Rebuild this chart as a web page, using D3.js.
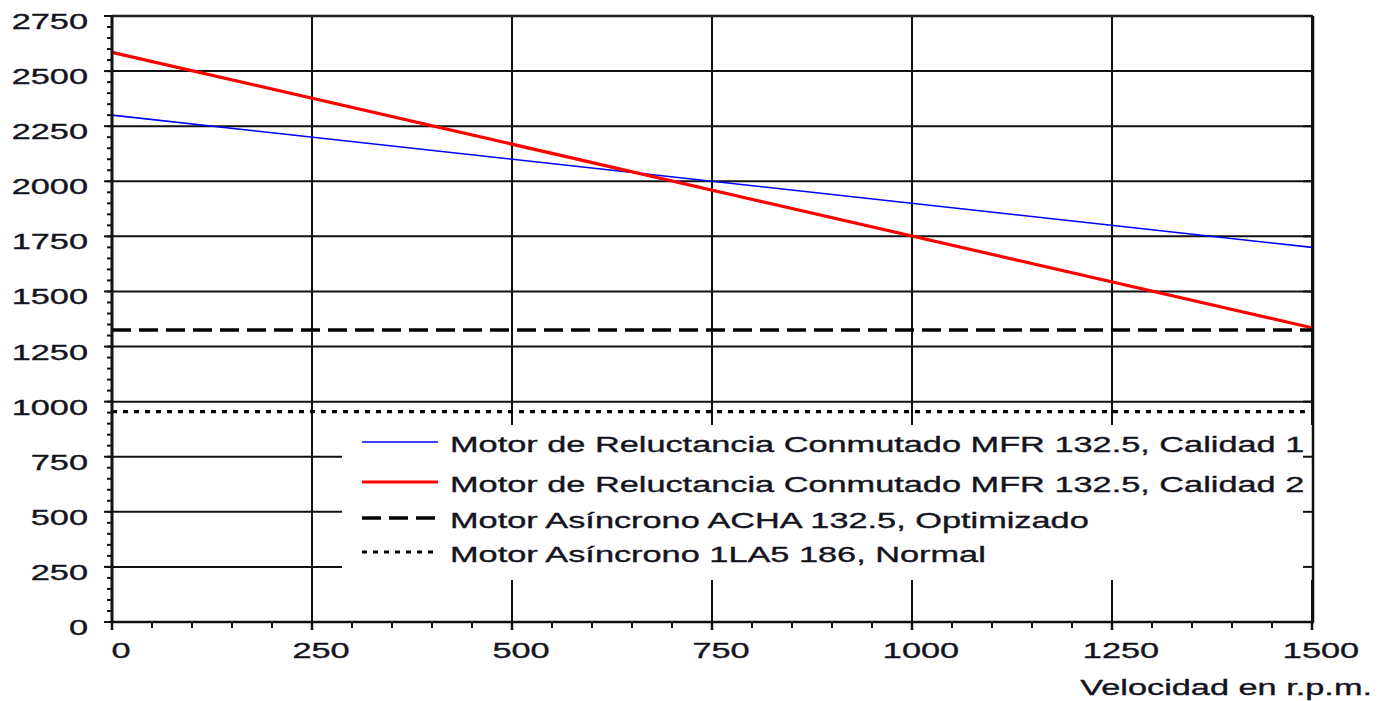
<!DOCTYPE html>
<html>
<head>
<meta charset="utf-8">
<script src="https://cdn.jsdelivr.net/npm/d3@7/dist/d3.min.js"></script>
<style>
  html, body { margin: 0; padding: 0; background: #fff; }
  svg { display: block; }
  text { font-family: "Liberation Sans", Arial, sans-serif; font-size: 22px; fill: #141420; stroke: #141420; stroke-width: 0.35px; }
</style>
</head>
<body>
<svg id="chart" width="1378" height="701"></svg>
<script>
// ---- data ----
const speeds = [0, 1500];
const calidad1 = [2300, 1700];
const calidad2 = [2585, 1335];
const achaOptimizado = [1325, 1325];
const normal1LA5 = [955, 955];
const xTicks = [0, 250, 500, 750, 1000, 1250, 1500];
const yTicks = [0, 250, 500, 750, 1000, 1250, 1500, 1750, 2000, 2250, 2500, 2750];
const seriesNames = [
  "Motor de Reluctancia Conmutado MFR 132.5, Calidad 1",
  "Motor de Reluctancia Conmutado MFR 132.5, Calidad 2",
  "Motor Asíncrono ACHA 132.5, Optimizado",
  "Motor Asíncrono 1LA5 186, Normal"
];
const xTitle = "Velocidad en r.p.m.";

// ---- layout ----
const L = 112, R = 1312, T = 16, B = 622;
const SX = 1.56; // horizontal text stretch of the original
const svg = d3.select("#chart");
const x = d3.scaleLinear().domain([0, 1500]).range([L, R]);
const y = d3.scaleLinear().domain([0, 2750]).range([B, T]);

const series = [
  { name: seriesNames[0], vals: calidad1, color: "#0000ff", width: 1.6, dash: null },
  { name: seriesNames[1], vals: calidad2, color: "#ff0000", width: 3.2, dash: null },
  { name: seriesNames[2], vals: achaOptimizado, color: "#000", width: 3.4, dash: "19,8" },
  { name: seriesNames[3], vals: normal1LA5, color: "#000", width: 3.2, dash: "5,6" }
];

// grid
const g = svg.append("g");
g.selectAll("line.hg").data(yTicks).enter().append("line")
  .attr("x1", L).attr("x2", R).attr("y1", d => y(d)).attr("y2", d => y(d))
  .attr("stroke", "#111").attr("stroke-width", 2);
g.selectAll("line.vg").data(xTicks).enter().append("line")
  .attr("y1", T).attr("y2", B).attr("x1", d => x(d)).attr("x2", d => x(d))
  .attr("stroke", "#111").attr("stroke-width", 2);

// series
const line = d3.line().x((d, i) => x(speeds[i])).y(d => y(d));
series.forEach(s => {
  svg.append("path").datum(s.vals)
    .attr("d", line).attr("fill", "none")
    .attr("stroke", s.color).attr("stroke-width", s.width)
    .attr("stroke-dasharray", s.dash);
});

// legend box
svg.append("rect").attr("x", 342).attr("y", 425).attr("width", R - 342).attr("height", 155).attr("fill", "#fff");
const rowsY = [442, 482, 518, 552];
series.forEach((s, i) => {
  svg.append("line").attr("x1", 362).attr("x2", 438).attr("y1", rowsY[i]).attr("y2", rowsY[i])
    .attr("stroke", s.color).attr("stroke-width", s.width).attr("stroke-dasharray", s.dash);
  svg.append("g").attr("transform", `translate(450,${rowsY[i] + 10}) scale(${SX},1)`)
    .append("text").text(s.name);
});

// frame
svg.append("line").attr("x1", L).attr("x2", R + 1).attr("y1", T).attr("y2", T).attr("stroke", "#222").attr("stroke-width", 2.5);
svg.append("line").attr("x1", R + 1).attr("x2", R + 1).attr("y1", T).attr("y2", B).attr("stroke", "#111").attr("stroke-width", 2.5);
// right inner ticks
svg.selectAll("line.rt").data(yTicks).enter().append("line")
  .attr("x1", R - 9).attr("x2", R).attr("y1", d => y(d)).attr("y2", d => y(d))
  .attr("stroke", "#111").attr("stroke-width", 2);

// left axis
const yMinor = d3.range(0, 2751, 50);
svg.selectAll("line.ymin").data(yMinor).enter().append("line")
  .attr("x1", L - 5).attr("x2", L).attr("y1", d => y(d)).attr("y2", d => y(d))
  .attr("stroke", "#111").attr("stroke-width", 2);
svg.selectAll("line.ymaj").data(yTicks).enter().append("line")
  .attr("x1", L - 8).attr("x2", L).attr("y1", d => y(d)).attr("y2", d => y(d))
  .attr("stroke", "#111").attr("stroke-width", 2);
svg.append("line").attr("x1", L).attr("x2", L).attr("y1", T - 1).attr("y2", B + 1).attr("stroke", "#111").attr("stroke-width", 3);
yTicks.forEach(t => {
  svg.append("g").attr("transform", `translate(88,${y(t) + 13}) scale(${SX},1)`)
    .append("text").attr("text-anchor", "end").text(t);
});

// bottom axis
const xMinor = d3.range(0, 1501, 50);
svg.selectAll("line.xmin").data(xMinor).enter().append("line")
  .attr("x1", d => x(d)).attr("x2", d => x(d)).attr("y1", B).attr("y2", B + 6)
  .attr("stroke", "#111").attr("stroke-width", 2);
svg.selectAll("line.xmaj").data(xTicks).enter().append("line")
  .attr("x1", d => x(d)).attr("x2", d => x(d)).attr("y1", B).attr("y2", B + 8)
  .attr("stroke", "#111").attr("stroke-width", 2.5);
svg.append("line").attr("x1", L - 1).attr("x2", R + 2).attr("y1", B).attr("y2", B).attr("stroke", "#111").attr("stroke-width", 2.5);
xTicks.forEach(t => {
  svg.append("g").attr("transform", `translate(${x(t) + 9},658) scale(${SX},1)`)
    .append("text").attr("text-anchor", "middle").text(t);
});

// x title
svg.append("g").attr("transform", `translate(1372,695) scale(${SX},1)`)
  .append("text").attr("text-anchor", "end").text(xTitle);
</script>
</body>
</html>
